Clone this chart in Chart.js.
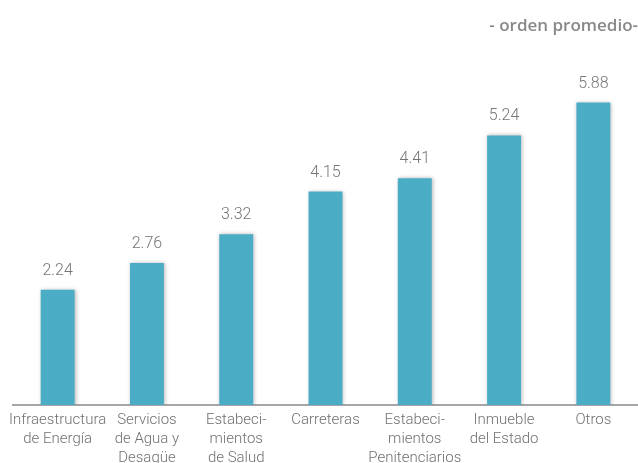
<!DOCTYPE html>
<html>
<head>
<meta charset="utf-8">
<script src="https://cdn.jsdelivr.net/npm/chart.js@4.4.1/dist/chart.umd.min.js"></script>
<style>
  html, body { margin: 0; padding: 0; background: #fff; }
  #wrap { width: 638px; height: 463px; }
</style>
</head>
<body>
<div id="wrap"><canvas id="myChart" width="638" height="463"></canvas></div>
<script>
var categories = [
  ['Infraestructura', 'de Energía'],
  ['Servicios', 'de Agua y', 'Desagüe'],
  ['Estabeci-', 'mientos', 'de Salud'],
  ['Carreteras'],
  ['Estabeci-', 'mientos', 'Penitenciarios'],
  ['Inmueble', 'del Estado'],
  ['Otros']
];
var values = [2.24, 2.76, 3.32, 4.15, 4.41, 5.24, 5.88];
var titleText = '- orden promedio-';

// soft shadow behind the bars
var barShadow = {
  id: 'barShadow',
  beforeDatasetsDraw: function(chart) {
    var c = chart.ctx;
    c.save();
    c.shadowColor = 'rgba(0,0,0,0.28)';
    c.shadowBlur = 4;
    c.shadowOffsetX = 1;
    c.shadowOffsetY = 0;
  },
  afterDatasetsDraw: function(chart) {
    chart.ctx.restore();
  }
};

// value printed above each bar
var valueLabels = {
  id: 'valueLabels',
  afterDraw: function(chart) {
    var c = chart.ctx;
    var meta = chart.getDatasetMeta(0);
    c.save();
    c.font = '300 16px Roboto';
    c.fillStyle = '#757575';
    c.textAlign = 'center';
    c.textBaseline = 'middle';
    meta.data.forEach(function(bar, i) {
      c.fillText(values[i].toFixed(2), bar.x, bar.y - 19);
    });
    c.restore();
  }
};

window.onload = function() {
  var ctx = document.getElementById('myChart').getContext('2d');

  var params = {
    type: 'bar',
    data: {
      labels: categories,
      datasets: [
        {
          data: values,
          backgroundColor: '#4bacc6',
          borderWidth: 0,
          barPercentage: 0.38,
          categoryPercentage: 1.0
        }
      ]
    },
    options: {
      responsive: false,
      animation: false,
      layout: { padding: { left: 13, right: 0, top: 0, bottom: 0 } },
      plugins: {
        legend: { display: false },
        tooltip: { enabled: false },
        title: {
          display: true,
          text: titleText,
          align: 'end',
          color: '#888888',
          font: { family: 'Open Sans', size: 17, weight: '600' },
          padding: { top: 16, bottom: 8.5 }
        }
      },
      scales: {
        x: {
          grid: { display: false, drawTicks: false },
          border: { display: true, color: '#a6a6a6', width: 2 },
          // the last label line runs off the bottom edge
          afterFit: function(scale) { scale.height = 58; },
          ticks: {
            color: '#707070',
            padding: 6,
            maxRotation: 0,
            autoSkip: false,
            font: { family: 'Roboto', size: 15, weight: '300', lineHeight: 1.25 }
          }
        },
        y: {
          display: false,
          min: 0,
          max: 7
        }
      }
    },
    plugins: [barShadow, valueLabels]
  };

  var chart = new Chart(ctx, params);
};
</script>
</body>
</html>
